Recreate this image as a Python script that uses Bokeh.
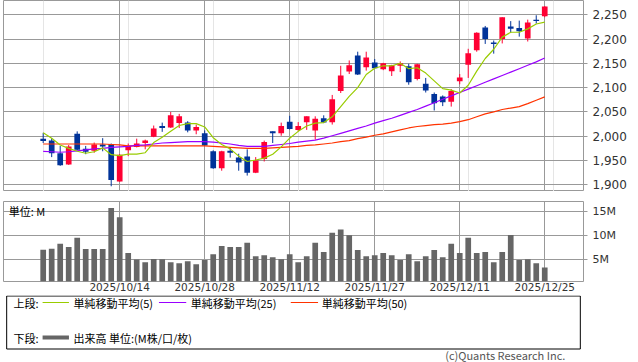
from bokeh.plotting import figure
from bokeh.models import Range1d, FixedTicker, Grid, NumeralTickFormatter, ColumnDataSource
from bokeh.layouts import column
from bokeh.embed import file_html
from bokeh.resources import INLINE
from bokeh.core.properties import value

# ---- data ----
tick_idx = [9, 19, 29, 39, 49, 59]
tick_labels = ["2025/10/14", "2025/10/28", "2025/11/12", "2025/11/27", "2025/12/11", "2025/12/25"]
price_ticks = [1900, 1950, 2000, 2050, 2100, 2150, 2200, 2250]
vol_ticks = [5, 10, 15]
vol_tick_labels = ["5M", "10M", "15M"]

opens = [1995, 1991, 1965, 1942, 2005, 1974, 1970, 1983, 1984, 1907,
         1971, 1978, 1986, 1999, 2021, 2018, 2027, 2028, 2012, 2006,
         1969, 1934, 1970, 1956, 1958, 1925, 1953, 2010, 2006, 2030,
         2013, 2029, 2012, 2037, 2029, 2093, 2133, 2166, 2142, 2152,
         2138, 2134, 2145, 2144, 2118, 2108, 2087, 2082, 2071, 2113,
         2147, 2177, 2224, 2193, 2200, 2226, 2223, 2201, 2240, 2247]
highs = [2007, 1996, 1980, 1982, 2010, 1980, 1987, 1996, 1985, 1963,
         1985, 1995, 1993, 2022, 2028, 2050, 2046, 2031, 2024, 2012,
         1971, 1970, 1977, 1964, 1973, 1957, 1991, 2010, 2028, 2042,
         2029, 2041, 2041, 2043, 2085, 2145, 2156, 2174, 2174, 2159,
         2151, 2147, 2154, 2149, 2149, 2120, 2090, 2084, 2097, 2128,
         2180, 2214, 2227, 2197, 2245, 2237, 2238, 2240, 2249, 2268]
lows = [1986, 1957, 1939, 1941, 1971, 1963, 1966, 1969, 1897, 1906,
        1959, 1977, 1973, 1998, 2009, 2017, 2017, 2008, 2004, 1980,
        1933, 1929, 1956, 1929, 1919, 1924, 1948, 1986, 2001, 2014,
        2010, 2013, 1993, 2027, 2024, 2089, 2128, 2126, 2135, 2140,
        2136, 2124, 2132, 2106, 2115, 2090, 2053, 2062, 2061, 2107,
        2120, 2174, 2190, 2170, 2191, 2213, 2205, 2195, 2232, 2245]
closes = [1990, 1965, 1940, 1979, 1972, 1968, 1983, 1979, 1910, 1962,
          1980, 1985, 1991, 2016, 2017, 2043, 2041, 2012, 2019, 1981,
          1934, 1969, 1966, 1946, 1925, 1950, 1988, 2006, 2021, 2015,
          2021, 2041, 2036, 2028, 2076, 2125, 2146, 2127, 2162, 2140,
          2150, 2146, 2150, 2111, 2148, 2094, 2068, 2070, 2093, 2121,
          2171, 2213, 2200, 2190, 2245, 2221, 2216, 2234, 2237, 2267]
ma5 = [2007, 1996, 1982, 1975, 1969, 1965, 1968, 1976, 1962, 1960,
       1963, 1963, 1966, 1987, 1998, 2010, 2022, 2026, 2026, 2019,
       1997, 1983, 1974, 1959, 1948, 1951, 1955, 1963, 1978, 1996,
       2010, 2021, 2027, 2028, 2040, 2061, 2082, 2100, 2127, 2140,
       2145, 2145, 2150, 2139, 2141, 2130, 2114, 2098, 2095, 2089,
       2105, 2134, 2160, 2179, 2204, 2214, 2214, 2221, 2231, 2235]
ma25 = [1969, 1968, 1967, 1968, 1970, 1972, 1974, 1975, 1977, 1978,
        1979, 1981, 1982, 1984, 1986, 1987, 1988, 1989, 1989, 1989,
        1988, 1986, 1984, 1981, 1979, 1979, 1979, 1981, 1983, 1985,
        1988, 1990, 1992, 1996, 2001, 2006, 2011, 2016, 2021, 2027,
        2032, 2037, 2043, 2049, 2055, 2062, 2069, 2076, 2083, 2090,
        2097, 2104, 2111, 2118, 2125, 2132, 2139, 2146, 2153, 2161]
ma50 = [1984, 1984, 1984, 1984, 1984, 1984, 1984, 1984, 1983, 1982,
        1980, 1980, 1980, 1980, 1980, 1980, 1980, 1980, 1980, 1980,
        1979, 1978, 1977, 1976, 1975, 1975, 1975, 1976, 1977, 1978,
        1979, 1981, 1982, 1984, 1986, 1989, 1991, 1995, 1998, 2002,
        2005, 2009, 2013, 2017, 2020, 2022, 2024, 2025, 2027, 2030,
        2034, 2040, 2046, 2050, 2055, 2058, 2061, 2067, 2074, 2081]
volumes_m = [6.98, 7.19, 8.19, 7.55, 9.47, 7.13, 7.13, 7.13, 15.64, 13.72,
             6.28, 4.93, 4.36, 5.07, 5.00, 4.36, 4.15, 4.57, 3.94, 4.86,
             6.06, 7.77, 7.55, 7.55, 8.40, 5.64, 5.85, 5.43, 5.00, 6.06,
             4.36, 5.64, 8.40, 6.49, 10.50, 11.17, 9.96, 6.91, 5.64, 5.85,
             6.28, 5.85, 4.86, 6.06, 4.57, 5.64, 6.91, 5.43, 8.19, 6.28,
             9.47, 6.28, 6.49, 4.36, 6.49, 10.04, 4.86, 5.00, 4.15, 3.30]

# ---- styles ----
UP = "#FF0033"
DOWN = "#003399"
GRID = "#999999"
AXIS_FONT = "DejaVu Sans"
JP_FONT = value("Noto Sans CJK JP")

n = len(closes)
xs = list(range(n))
colors = [UP if c >= o else DOWN for o, c in zip(opens, closes)]
src = ColumnDataSource(dict(
    x=xs, o=opens, h=highs, l=lows, c=closes,
    top=[max(o, c) for o, c in zip(opens, closes)],
    bottom=[min(o, c) for o, c in zip(opens, closes)],
    color=colors, vol=volumes_m, ma5=ma5, ma25=ma25, ma50=ma50,
))

W = 638
P_H = 191
V_H = 104
L_H = 362 - P_H - V_H
x_range = Range1d(-4.67, 63.56)

# ---- price panel ----
p = figure(width=W, height=P_H, x_range=x_range, y_range=Range1d(1886.2, 2279.4),
           output_backend="svg", toolbar_location=None,
           x_axis_location=None, y_axis_location="right",
           min_border_left=3, min_border_right=55, min_border_top=0, min_border_bottom=0)
p.outline_line_color = GRID
p.outline_line_alpha = 1
p.ygrid.ticker = FixedTicker(ticks=price_ticks)
p.ygrid.grid_line_color = GRID
p.add_layout(Grid(dimension=0, ticker=FixedTicker(ticks=tick_idx), grid_line_color=GRID))
ya = p.yaxis[0]
ya.ticker = FixedTicker(ticks=price_ticks)
ya.formatter = NumeralTickFormatter(format="0,0")
ya.axis_line_color = None
ya.major_tick_line_color = GRID
ya.major_tick_out = 4
ya.major_tick_in = 0
ya.minor_tick_line_color = None
ya.major_label_standoff = 5
ya.major_label_text_font = AXIS_FONT
ya.major_label_text_font_size = "12px"
ya.major_label_text_color = "#333333"

p.segment(x0="x", y0="h", x1="x", y1="l", color="color", line_width=1, source=src)
p.vbar(x="x", width=0.67, top="top", bottom="bottom", fill_color="color", line_color=None, source=src)
p.line("x", "ma50", color="#FF3300", line_width=1.2, source=src)
p.line("x", "ma25", color="#9900FF", line_width=1.2, source=src)
p.line("x", "ma5", color="#99CC00", line_width=1.2, source=src)

# ---- volume panel ----
v = figure(width=W, height=V_H, x_range=x_range, y_range=Range1d(0.38, 16.98),
           output_backend="svg", toolbar_location=None, y_axis_location="right",
           min_border_left=3, min_border_right=55, min_border_top=10, min_border_bottom=0)
v.outline_line_color = GRID
v.outline_line_alpha = 1
v.xgrid.ticker = FixedTicker(ticks=tick_idx)
v.xgrid.grid_line_color = GRID
v.ygrid.ticker = FixedTicker(ticks=vol_ticks)
v.ygrid.grid_line_color = GRID
va = v.yaxis[0]
va.ticker = FixedTicker(ticks=vol_ticks)
va.major_label_overrides = {t: s for t, s in zip(vol_ticks, vol_tick_labels)}
va.axis_line_color = None
va.major_tick_line_color = GRID
va.major_tick_out = 4
va.major_tick_in = 0
va.minor_tick_line_color = None
va.major_label_standoff = 5
va.major_label_text_font = AXIS_FONT
va.major_label_text_font_size = "11px"
va.major_label_text_color = "#333333"
xa = v.xaxis[0]
xa.ticker = FixedTicker(ticks=tick_idx)
xa.major_label_overrides = {t: s for t, s in zip(tick_idx, tick_labels)}
xa.axis_line_color = None
xa.major_tick_line_color = None
xa.major_tick_out = 0
xa.major_tick_in = 0
xa.minor_tick_line_color = None
xa.minor_tick_out = 0
xa.minor_tick_in = 0
xa.major_label_standoff = -1
xa.major_label_text_font = AXIS_FONT
xa.major_label_text_font_size = "10.5px"
xa.major_label_text_color = "#333333"

v.vbar(x="x", width=0.67, top="vol", bottom=0, fill_color="#666666", line_color=None, source=src)
v.text(x=[-4.05], y=[15.0], text=["単位: M"], text_font=JP_FONT, text_font_size="11px",
       text_baseline="middle", text_color="#000000")

# ---- legend panel ----
leg_top = P_H + V_H
box_top = max(294.5, leg_top + 0.5)
leg = figure(width=W, height=L_H, x_range=Range1d(0, W), y_range=Range1d(362, leg_top),
             output_backend="svg", toolbar_location=None,
             x_axis_location=None, y_axis_location=None,
             min_border_left=0, min_border_right=0, min_border_top=0, min_border_bottom=0)
leg.outline_line_color = None
leg.grid.visible = False
leg.quad(left=[3.5], right=[634.5], top=[box_top], bottom=[348.5], fill_color=None, line_color="#000000", line_width=1)
leg.segment(x0=[43, 171, 316], y0=[302, 302, 302], x1=[72, 201, 346], y1=[302, 302, 302],
            color=["#99CC00", "#9900FF", "#FF3300"], line_width=1.2)
leg.segment(x0=[43], y0=[337], x1=[72], y1=[337], color="#666666", line_width=4)
leg.text(x=[11, 77, 206, 350, 11, 77], y=[302, 302, 302, 302, 337, 337],
         text=["上段:", "単純移動平均(5)", "単純移動平均(25)", "単純移動平均(50)", "下段:", "出来高 単位:(M株/口/枚)"],
         text_font=JP_FONT, text_font_size="11px", text_baseline="middle", text_color="#000000")
leg.text(x=[618], y=[354], text=["(c)Quants Research Inc."], text_font=JP_FONT, text_font_size="11px",
         text_baseline="middle", text_align="right", text_color="#555555")

layout = column(p, v, leg, spacing=0)
open("out.html", "w").write(file_html(layout, INLINE))
